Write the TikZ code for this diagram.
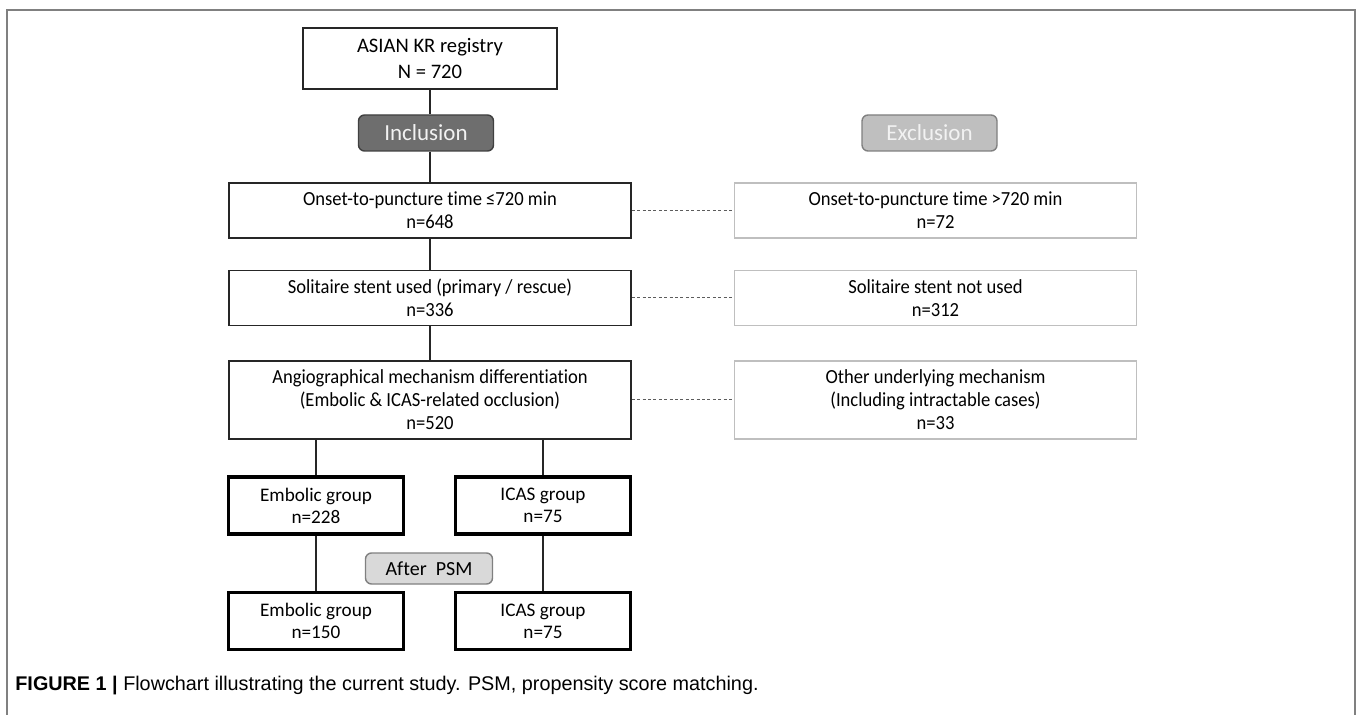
\documentclass[tikz,border=0pt]{standalone}
\usepackage{fontspec}
\setmainfont{Carlito}[Ligatures=CommonOff]
\newfontfamily\boxfont{Carlito}[FakeStretch=0.93, Ligatures=CommonOff]
\newfontfamily\capfont{Liberation Sans}
\usetikzlibrary{positioning}
\definecolor{inclFill}{HTML}{6E6E6E}
\definecolor{exclFill}{HTML}{BFBFBF}
\definecolor{psmFill}{HTML}{D9D9D9}
\definecolor{lineDark}{HTML}{262626}
\definecolor{frameGray}{HTML}{808080}
\tikzset{
    mainBox/.style={rectangle, draw=lineDark, line width=0.8pt, fill=white, align=center, inner sep=1pt, font=\boxfont\fontsize{10}{11.5}\selectfont, minimum width=201pt, minimum height=27.5pt},
    exclBox/.style={mainBox, draw=exclFill, line width=0.6pt},
    groupBox/.style={mainBox, draw=black, line width=1.8pt, minimum width=87.5pt, minimum height=28.5pt, font=\fontsize{9.6}{11}\selectfont},
    tagBox/.style={rectangle, rounded corners=3pt, draw=#1, line width=0.7pt, align=center, inner sep=1pt, minimum width=67.5pt, minimum height=18pt, font=\fontsize{11.5}{12}\selectfont},
    flowLine/.style={draw=lineDark, line width=1pt},
    exclLine/.style={draw=lineDark!75, line width=0.5pt, dash pattern=on 1.5pt off 1.2pt},
}
\newcommand{\exclLink}[2]{
    \draw[exclLine] (#1.east) -- (#2.west);
}
\begin{document}
\begin{tikzpicture}[x=0.5pt, y=-0.5pt]
    \useasboundingbox (0,0) rectangle (1358,715);
    \draw[frameGray, line width=1.2pt] (7,715) -- (7,10) -- (1355,10) -- (1355,715);

    \node[mainBox, minimum width=127pt, minimum height=30.5pt, font=\fontsize{10.3}{12.8}\selectfont] (reg) at (430,58.5) {ASIAN KR registry\\N = 720};
    \node[tagBox=black!75, fill=inclFill, text=white!95!black] (incl) at (426,133) {Inclusion};
    \node[tagBox=frameGray, fill=exclFill, text=white!95!black] (excl) at (929.5,133) {Exclusion};

    \node[mainBox] (onset) at (430,210.5) {Onset-to-puncture time ≤720 min\\n=648};
    \node[exclBox] (onsetX) at (935.5,210.5) {Onset-to-puncture time >720 min\\n=72};
    \node[mainBox] (sol) at (430,298) {Solitaire stent used (primary / rescue)\\n=336};
    \node[exclBox] (solX) at (935.5,298) {Solitaire stent not used\\n=312};
    \node[mainBox, minimum height=39pt] (angio) at (430,400) {Angiographical mechanism differentiation\\(Embolic \& ICAS-related occlusion)\\n=520};
    \node[exclBox, minimum height=39pt] (angioX) at (935.5,400) {Other underlying mechanism\\(Including intractable cases)\\n=33};

    \node[groupBox] (emb) at (316,505.5) {Embolic group\\n=228};
    \node[groupBox] (icas) at (543,505.5) {ICAS group\\n=75};
    \node[tagBox=frameGray, fill=psmFill, minimum width=63.5pt, minimum height=15.5pt, font=\fontsize{10}{11}\selectfont] (psm) at (429,568.5) {After\ \ PSM};
    \node[groupBox] (emb2) at (316,621) {Embolic group\\n=150};
    \node[groupBox] (icas2) at (543,621) {ICAS group\\n=75};

    % main flow
    \draw[flowLine] (reg.south) -- (reg.south |- incl.north);
    \draw[flowLine] (incl.south -| onset.north) -- (onset.north);
    \draw[flowLine] (onset) -- (sol);
    \draw[flowLine] (sol) -- (angio);
    \draw[flowLine] (emb.north |- angio.south) -- (emb.north);
    \draw[flowLine] (icas.north |- angio.south) -- (icas.north);
    \draw[flowLine] (emb) -- (emb2);
    \draw[flowLine] (icas) -- (icas2);

    % exclusions
    \exclLink{onset}{onsetX}
    \exclLink{sol}{solX}
    \exclLink{angio}{angioX}

    \node[anchor=base west, inner sep=0pt, font=\capfont\fontsize{9.9}{11}\selectfont] (cap) at (15,690) {\textbf{FIGURE 1 |} Flowchart illustrating the current study. PSM, propensity score matching.};
\end{tikzpicture}
\end{document}
